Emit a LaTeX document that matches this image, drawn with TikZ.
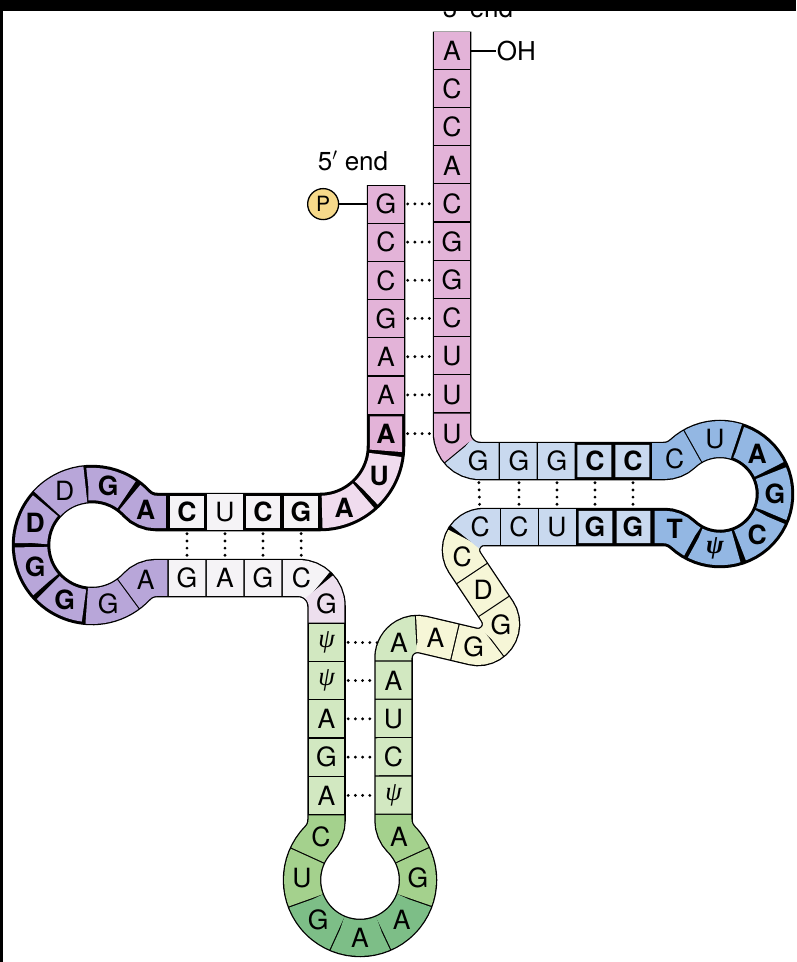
\documentclass[tikz,border=0pt]{standalone}
\usepackage{fontspec}
\setmainfont{TeX Gyre Heros}
\newfontfamily\psifont{Liberation Serif}
\usetikzlibrary{positioning}
\definecolor{pinkA}{HTML}{E3B3D8}
\definecolor{pinkL}{HTML}{F0DCEE}
\definecolor{pinkG}{HTML}{EDDFEE}
\definecolor{paleW}{HTML}{F5F3F6}
\definecolor{purple}{HTML}{B8A6D9}
\definecolor{greenL}{HTML}{D2E8C1}
\definecolor{greenM}{HTML}{A4D18D}
\definecolor{greenD}{HTML}{7DBE87}
\definecolor{yellow}{HTML}{F6F6D7}
\definecolor{blueL}{HTML}{C9D9EF}
\definecolor{blueM}{HTML}{93B7E3}
\definecolor{phosfill}{HTML}{F6D98A}
\tikzset{
  rna/.style={insert path={(386,185) -- (386,446)
    arc[start angle=0, end angle=90, radius=66] -- (156.37,512)
    arc[start angle=90, end angle=137, radius=27]
    arc[start angle=317, end angle=43, radius=61]
    arc[start angle=223, end angle=270, radius=27] -- (298.5,578)
    arc[start angle=270, end angle=360, radius=28] -- (326.5,820.3)
    arc[start angle=0, end angle=44.6, radius=27]
    arc[start angle=224.6, end angle=-44.6, radius=58]
    arc[start angle=135.4, end angle=180, radius=27] -- (393.5,658)
    arc[start angle=180, end angle=283.29, radius=24] -- (472.71,646.38)
    arc[start angle=103.29, end angle=-33.65, radius=23] -- (464.85,562.74)
    arc[start angle=146.35, end angle=270, radius=23] -- (664.11,527)
    arc[start angle=270, end angle=312.97, radius=27]
    arc[start angle=132.97, end angle=-132.97, radius=55]
    arc[start angle=47.03, end angle=90, radius=27] -- (480,461)
    arc[start angle=90, end angle=180, radius=28] -- (452,31.7)}},
  rib/.style={draw=black, line width=38.5pt, line cap=butt},
  lt/.style={font=\fontsize{26.5}{28}\selectfont, inner sep=0pt, minimum size=37pt},
  ltb/.style={lt, font=\fontsize{26.5}{28}\selectfont\bfseries},
  pair/.style={draw=black, line width=3.2pt, line cap=round, dash pattern=on 0pt off 7.2pt, shorten <=3pt, shorten >=3pt},
  bond/.style={draw=black, line width=1.5pt},
  phos/.style={circle, draw=black, line width=1.3pt, fill=phosfill, minimum size=31pt, inner sep=0pt, font=\fontsize{21}{22}\selectfont},
  endlabel/.style={font=\fontsize{26}{28}\selectfont, inner sep=1pt}
}

\begin{document}
\begin{tikzpicture}[x=1pt, y=-1pt]
  \useasboundingbox (0,0) rectangle (796,962);
  \fill[white] (0,0) rectangle (796,962);

  \draw[rib, rna];
  \foreach \sa/\sb/\col/\kind in {
      0/38.2/pinkA/0, 38.2/76.4/pinkA/0, 76.4/114.6/pinkA/0, 114.6/152.8/pinkA/0,
      152.8/191/pinkA/0, 191/229.2/pinkA/0, 229.2/267.91/pinkA/1, 267.91/315.14/pinkL/1,
      315.14/364.67/pinkL/1, 364.67/402.67/paleW/1, 402.67/440.67/paleW/1, 440.67/478.67/paleW/0,
      478.67/516.67/paleW/1, 516.67/561.58/purple/1, 561.58/606.49/purple/1, 606.49/651.40/purple/0,
      651.40/696.30/purple/1, 696.30/741.21/purple/1, 741.21/786.12/purple/1, 786.12/831.03/purple/0,
      831.03/875.94/purple/0, 875.94/913.94/paleW/0, 913.94/951.94/paleW/0, 951.94/989.94/paleW/0,
      989.94/1028.68/paleW/0, 1028.68/1067.42/pinkG/0, 1067.42/1105.72/greenL/0, 1105.72/1144.02/greenL/0,
      1144.02/1182.32/greenL/0, 1182.32/1220.62/greenL/0, 1220.62/1258.92/greenL/0, 1258.92/1305.51/greenM/0,
      1305.51/1352.10/greenM/0, 1352.10/1398.70/greenD/0, 1398.70/1445.29/greenD/0, 1445.29/1491.88/greenD/0,
      1491.88/1538.47/greenM/0, 1538.47/1585.07/greenM/0, 1585.07/1623.37/greenL/0, 1623.37/1661.67/greenL/0,
      1661.67/1699.97/greenL/0, 1699.97/1738.27/greenL/0, 1738.27/1777.77/greenL/0, 1777.77/1817.27/yellow/0,
      1817.27/1856.78/yellow/0, 1856.78/1896.28/yellow/0, 1896.28/1935.78/yellow/0, 1935.78/1975.29/yellow/0,
      1975.29/2014.79/blueL/0, 2014.79/2052.79/blueL/0, 2052.79/2090.79/blueL/0, 2090.79/2128.79/blueL/1,
      2128.79/2166.79/blueL/1, 2166.79/2212.50/blueM/1, 2212.50/2258.22/blueM/1, 2258.22/2303.93/blueM/1,
      2303.93/2349.65/blueM/1, 2349.65/2395.36/blueM/1, 2395.36/2441.08/blueM/0, 2441.08/2486.79/blueM/0,
      2486.79/2524.79/blueL/1, 2524.79/2562.79/blueL/1, 2562.79/2600.79/blueL/0, 2600.79/2638.79/blueL/0,
      2638.79/2682.3/blueL/0, 2682.3/2722.07/pinkA/0, 2722.07/2760.27/pinkA/0, 2760.27/2798.47/pinkA/0,
      2798.47/2836.67/pinkA/0, 2836.67/2874.87/pinkA/0, 2874.87/2913.07/pinkA/0, 2913.07/2951.27/pinkA/0,
      2951.27/2989.47/pinkA/0, 2989.47/3027.67/pinkA/0, 3027.67/3065.87/pinkA/0, 3065.87/3104.07/pinkA/0} {
    \ifnum\kind=1 \def\cellins{2.1}\def\cellw{32.4}\else \def\cellins{0.65}\def\cellw{35.9}\fi
    \pgfmathsetmacro\celllen{\sb-\sa-2*\cellins}
    \pgfmathsetmacro\cellph{\celllen+6000-\sa-\cellins}
    \draw[rna, draw=\col, line width=\cellw pt, line cap=butt, dash pattern=on \celllen pt off 6000pt, dash phase=\cellph pt];
  }

  \node[lt] (a1) at (386,204.1) {G};
  \node[lt] (a2) at (386,242.3) {C};
  \node[lt] (a3) at (386,280.5) {C};
  \node[lt] (a4) at (386,318.7) {G};
  \node[lt] (a5) at (386,356.9) {A};
  \node[lt] (a6) at (386,395.1) {A};
  \node[ltb] (a7) at (386,433.6) {A};
  \node[ltb] (b1) at (379.1,475.5) {U};
  \node[ltb] (b2) at (344.2,507.4) {A};
  \node[ltb] (d1) at (301,512) {G};
  \node[ltb] (d2) at (263,512) {C};
  \node[lt] (d3) at (225,512) {U};
  \node[ltb] (d4) at (187,512) {C};
  \node[ltb] (l1) at (145.8,509.9) {A};
  \node[ltb] (l2) at (108.3,486.2) {G};
  \node[lt] (l3) at (64.6,490.5) {D};
  \node[ltb] (l4) at (35.1,523.1) {D};
  \node[ltb] (l5) at (35.1,566.9) {G};
  \node[ltb] (l6) at (64.6,599.5) {G};
  \node[lt] (l7) at (108.3,603.8) {G};
  \node[lt] (l8) at (145.8,580.1) {A};
  \node[lt] (e1) at (187,578) {G};
  \node[lt] (e2) at (225,578) {A};
  \node[lt] (e3) at (263,578) {G};
  \node[lt] (e4) at (301.4,578.1) {C};
  \node[lt] (e5) at (326.4,603.6) {G};
  \node[lt] (c1) at (326.5,642.2) {\psifont\itshape ψ};
  \node[lt] (c2) at (326.5,680.5) {\psifont\itshape ψ};
  \node[lt] (c3) at (326.5,718.8) {A};
  \node[lt] (c4) at (326.5,757.1) {G};
  \node[lt] (c5) at (326.5,795.4) {A};
  \node[lt] (k1) at (321,836.6) {C};
  \node[lt] (k2) at (302,877.9) {U};
  \node[lt] (k3) at (318.3,920.3) {G};
  \node[lt] (k4) at (360,938) {A};
  \node[lt] (k5) at (401.7,920.3) {A};
  \node[lt] (k6) at (418,877.9) {G};
  \node[lt] (k7) at (399,836.6) {A};
  \node[lt] (m1) at (393.5,795.4) {\psifont\itshape ψ};
  \node[lt] (m2) at (393.5,757.1) {C};
  \node[lt] (m3) at (393.5,718.8) {U};
  \node[lt] (m4) at (393.5,680.5) {A};
  \node[lt] (v1) at (398.9,642.8) {A};
  \node[lt] (v2) at (435.4,637.6) {A};
  \node[lt] (v3) at (473.8,646.6) {G};
  \node[lt] (v4) at (501,624.8) {G};
  \node[lt] (v5) at (483.2,590.3) {D};
  \node[lt] (v6) at (462.1,557) {C};
  \node[lt] (t1) at (480.3,527.3) {C};
  \node[lt] (t2) at (519,527) {C};
  \node[lt] (t3) at (557,527) {U};
  \node[ltb] (t4) at (595,527) {G};
  \node[ltb] (t5) at (633,527) {G};
  \node[ltb] (q1) at (674.6,529.1) {T};
  \node[ltb] (q2) at (715,548.8) {\psifont\itshape ψ};
  \node[ltb] (q3) at (757.1,534.6) {C};
  \node[ltb] (q4) at (775,494) {G};
  \node[ltb] (q5) at (757.1,453.4) {A};
  \node[lt] (q6) at (715,439.2) {U};
  \node[lt] (q7) at (674.6,458.9) {C};
  \node[ltb] (s1) at (633,461) {C};
  \node[ltb] (s2) at (595,461) {C};
  \node[lt] (s3) at (557,461) {G};
  \node[lt] (s4) at (519,461) {G};
  \node[lt] (s5) at (478.2,461) {G};
  \node[lt] (r11) at (452,433.6) {U};
  \node[lt] (r10) at (452,394.6) {U};
  \node[lt] (r9) at (452,356.4) {U};
  \node[lt] (r8) at (452,318.2) {C};
  \node[lt] (r7) at (452,280) {G};
  \node[lt] (r6) at (452,241.8) {G};
  \node[lt] (r5) at (452,203.6) {C};
  \node[lt] (r4) at (452,165.4) {A};
  \node[lt] (r3) at (452,127.2) {C};
  \node[lt] (r2) at (452,89) {C};
  \node[lt] (r1) at (452,50.8) {A};

  \foreach \u/\w in {a1/r5,a2/r6,a3/r7,a4/r8,a5/r9,a6/r10,a7/r11,d1/e4,d2/e3,d3/e2,d4/e1,
                     c1/v1,c2/m4,c3/m3,c4/m2,c5/m1,s1/t5,s2/t4,s3/t3,s4/t2,s5/t1} {
    \draw[pair] (\u) -- (\w);
  }

  \node[phos, left=28pt of a1] (phos) {P};
  \draw[bond] (phos) -- (a1);
  \node[endlabel, right=25pt of r1] (oh) {OH};
  \draw[bond] (r1) -- (oh);
  \node[endlabel, anchor=base] (fiveend) at (353,170) {5$'$ end};
  \node[endlabel, anchor=base] (threeend) at (478,17) {3$'$ end};

  \fill[black] (0,0) rectangle (796,10.5);
  \fill[black] (0,0) rectangle (3,962);
\end{tikzpicture}
\end{document}
